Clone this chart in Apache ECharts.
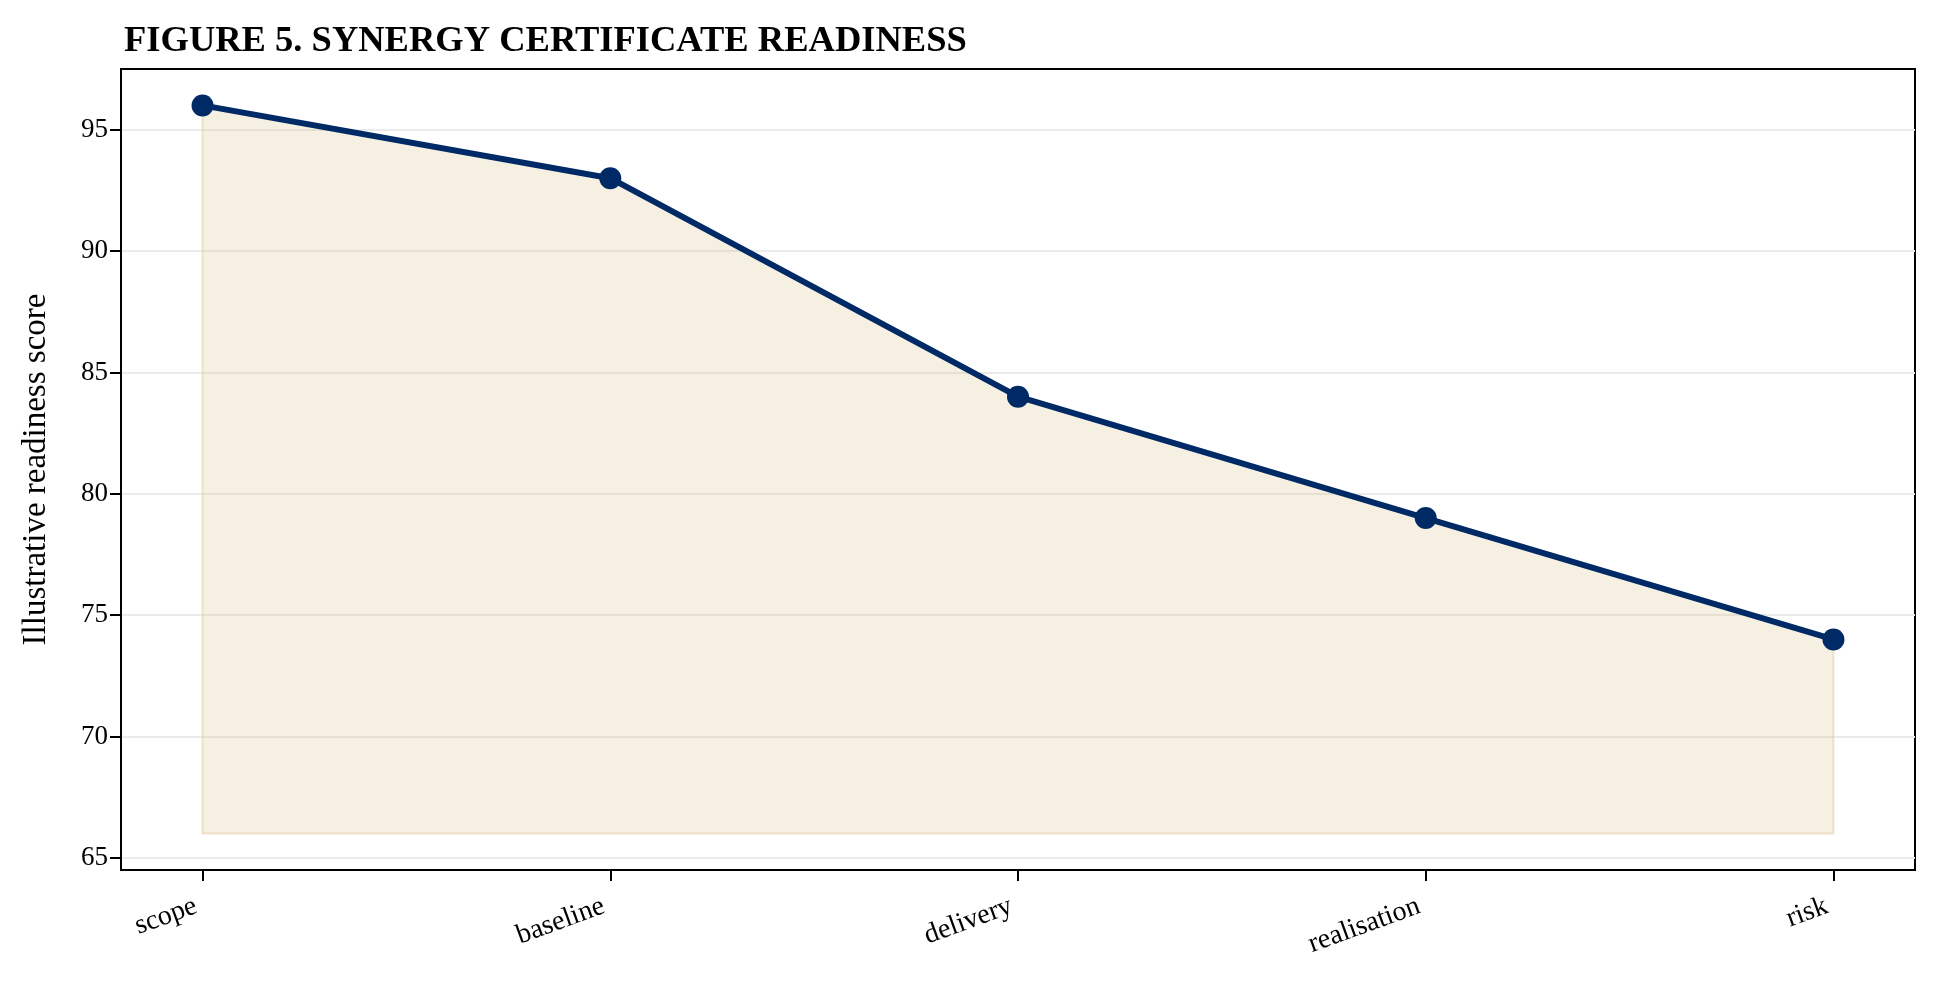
<!DOCTYPE html>
<html>
<head>
<meta charset="utf-8">
<script src="https://cdn.jsdelivr.net/npm/echarts@6/dist/echarts.min.js"></script>
<style>
  html, body { margin: 0; padding: 0; background: #fff; }
  #chart { width: 1940px; height: 983px; }
</style>
</head>
<body>
<div id="chart"></div>
<script>
// categories and readiness scores
var stages = ["scope", "baseline", "delivery", "realisation", "risk"];
var scores = [96, 93, 84, 79, 74];
var fillBase = 66;
var yTicks = [65, 70, 75, 80, 85, 90, 95];

var serif = "Liberation Serif";

var points = [];
var xTicks = [];
for (var i in stages) {
	points.push([Number(i), scores[i]]);
	xTicks.push(Number(i));
}
// outline of the shaded band (left side, bottom, right side)
var last = stages.length - 1;
var bandEdge = [
	[0, scores[0]], [0, fillBase], [last, fillBase], [last, scores[last]]
];

var myChart = echarts.init(document.getElementById('chart'));

var option = {
	backgroundColor: "#fff",
	animation: false,
	title: {
		text: "FIGURE 5. SYNERGY CERTIFICATE READINESS",
		left: 119,
		top: 18,
		textStyle: {
			fontFamily: serif,
			fontWeight: "bold",
			fontSize: 36.5,
			color: "#000"
		}
	},
	grid: {
		left: 121,
		right: 25,
		top: 69,
		bottom: 113,
		show: true,
		borderColor: "#000",
		borderWidth: 2,
		backgroundColor: "transparent"
	},
	xAxis: {
		type: "value",
		min: -0.2,
		max: 4.2,
		axisLine: { show: true, onZero: false, lineStyle: { color: "#000", width: 2 } },
		axisTick: {
			show: true,
			inside: false,
			customValues: xTicks,
			length: 11,
			lineStyle: { color: "#000", width: 2 }
		},
		axisLabel: {
			customValues: xTicks,
			rotate: 20,
			margin: 33,
			padding: [0, 7, 0, 0],
			fontFamily: serif,
			fontSize: 28,
			color: "#000",
			formatter: function (v) { return stages[Math.round(v)]; }
		},
		splitLine: { show: false }
	},
	yAxis: {
		type: "value",
		min: 64.5,
		max: 97.5,
		name: "Illustrative readiness score",
		nameLocation: "middle",
		nameRotate: 90,
		nameGap: 68,
		nameTextStyle: {
			fontFamily: serif,
			fontSize: 33,
			color: "#000"
		},
		axisLine: { show: true, onZero: false, lineStyle: { color: "#000", width: 2 } },
		axisTick: {
			show: true,
			inside: false,
			customValues: yTicks,
			length: 11,
			lineStyle: { color: "#000", width: 2 }
		},
		axisLabel: {
			customValues: yTicks,
			margin: 13,
			fontFamily: serif,
			fontSize: 27,
			color: "#000"
		},
		splitLine: {
			show: true,
			customValues: yTicks,
			lineStyle: { color: "#ebebeb", width: 2 }
		}
	},
	series: [{
		type: "line",
		data: bandEdge,
		symbol: "none",
		silent: true,
		lineStyle: { color: "rgba(214, 186, 120, 0.35)", width: 2 },
		z: 1
	}, {
		type: "line",
		data: points,
		symbol: "circle",
		symbolSize: 22,
		lineStyle: { color: "#002a66", width: 6 },
		itemStyle: { color: "#002a66" },
		areaStyle: {
			origin: fillBase,
			color: "rgba(212, 184, 116, 0.3)"
		},
		z: 3
	}]
};
myChart.setOption(option);
</script>
</body>
</html>
